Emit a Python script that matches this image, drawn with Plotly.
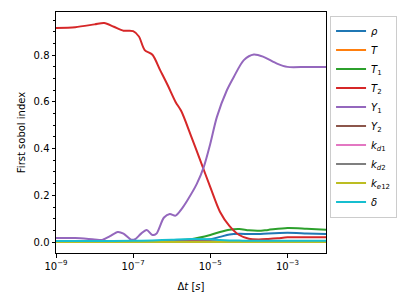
import plotly.graph_objects as go

# log10(dt) grids and values
x_T2 = [-9, -8.5, -8, -7.75, -7.5, -7.25, -7, -6.85, -6.7, -6.5, -6.3, -6.1, -5.9, -5.75, -5.5, -5.25, -5, -4.75, -4.5, -4.25, -4, -3.75, -3.5, -3.25, -3, -2.5, -2]
T2 = [0.917, 0.920, 0.932, 0.938, 0.922, 0.905, 0.903, 0.88, 0.822, 0.802, 0.736, 0.67, 0.60, 0.56, 0.455, 0.345, 0.235, 0.13, 0.068, 0.03, 0.014, 0.011, 0.013, 0.016, 0.02, 0.02, 0.02]

x_Y1 = [-9, -8.5, -8.0, -7.8, -7.6, -7.4, -7.25, -7.05, -6.95, -6.8, -6.65, -6.5, -6.4, -6.2, -6.05, -5.9, -5.75, -5.6, -5.35, -5.17, -5.0, -4.83, -4.57, -4.39, -4.13, -3.87, -3.62, -3.27, -3.0, -2.5, -2]
Y1 = [0.017, 0.017, 0.011, 0.009, 0.025, 0.043, 0.036, 0.01, 0.012, 0.035, 0.052, 0.03, 0.035, 0.105, 0.12, 0.113, 0.14, 0.177, 0.249, 0.321, 0.421, 0.535, 0.65, 0.707, 0.779, 0.803, 0.793, 0.764, 0.75, 0.75, 0.75]

x_common = [-9, -8, -7, -6.5, -6, -5.5, -5, -4.75, -4.5, -4.25, -4, -3.75, -3.5, -3, -2.5, -2]
rho = [0.003, 0.003, 0.003, 0.004, 0.005, 0.006, 0.012, 0.022, 0.032, 0.035, 0.034, 0.034, 0.037, 0.04, 0.037, 0.034]
T = [0.0] * 16
T1 = [0.002, 0.002, 0.003, 0.004, 0.007, 0.012, 0.03, 0.043, 0.053, 0.056, 0.05, 0.048, 0.052, 0.06, 0.057, 0.053]
Y2 = [0.001, 0.001, 0.001, 0.002, 0.004, 0.006, 0.004, 0.002, 0.001, 0.001, 0.001, 0.001, 0.001, 0.001, 0.001, 0.001]
kd1 = [0.001] * 16
kd2 = [0.001] * 16
ke12 = [0.0] * 16
delta = [0.004, 0.004, 0.005, 0.007, 0.01, 0.013, 0.012, 0.009, 0.007, 0.006, 0.005, 0.005, 0.005, 0.005, 0.005, 0.005]

names = ["<i>ρ</i>", "<i>T</i>", "<i>T</i><sub>1</sub>", "<i>T</i><sub>2</sub>", "<i>Y</i><sub>1</sub>",
         "<i>Y</i><sub>2</sub>", "<i>k</i><sub><i>d</i>1</sub>", "<i>k</i><sub><i>d</i>2</sub>",
         "<i>k</i><sub><i>e</i>12</sub>", "<i>δ</i>"]
colors = ["#1f77b4", "#ff7f0e", "#2ca02c", "#d62728", "#9467bd",
          "#8c564b", "#e377c2", "#7f7f7f", "#bcbd22", "#17becf"]
series = [(x_common, rho), (x_common, T), (x_common, T1), (x_T2, T2), (x_Y1, Y1),
          (x_common, Y2), (x_common, kd1), (x_common, kd2), (x_common, ke12), (x_common, delta)]

fig = go.Figure()
for (xs, ys), n, c in zip(series, names, colors):
    fig.add_trace(go.Scatter(x=[10 ** v for v in xs], y=ys, mode="lines", name=n,
                             line=dict(color=c, width=2, shape="spline", smoothing=0.8)))

font = dict(family="DejaVu Sans", size=10, color="black")
fig.update_layout(
    width=407, height=305, margin=dict(l=56, r=81, t=12, b=52, autoexpand=False),
    paper_bgcolor="white", plot_bgcolor="white", font=font,
    legend=dict(x=1.015, y=0.985, xanchor="left", yanchor="top",
                bordercolor="#cccccc", borderwidth=1, bgcolor="white",
                font=dict(family="DejaVu Sans", size=10), tracegroupgap=0),
)
fig.update_xaxes(type="log", range=[-9, -2], showline=True, mirror=True, linecolor="black",
                 linewidth=1, ticks="outside", ticklen=3.5, tickcolor="black", showgrid=False,
                 zeroline=False,
                 tickvals=[1e-9, 1e-7, 1e-5, 1e-3],
                 ticktext=["10<sup>−9</sup>", "10<sup>−7</sup>", "10<sup>−5</sup>", "10<sup>−3</sup>"],
                 title=dict(text="Δ<i>t</i> [<i>s</i>]", standoff=12, font=font))
fig.update_yaxes(range=[-0.047, 0.985], showline=True, mirror=True, linecolor="black",
                 linewidth=1, ticks="outside", ticklen=3.5, tickcolor="black", showgrid=False,
                 zeroline=False, tickvals=[0, 0.2, 0.4, 0.6, 0.8],
                 ticktext=["0.0", "0.2", "0.4", "0.6", "0.8"],
                 minor=dict(dtick=0.05, ticks="outside", ticklen=2, tickcolor="black", showgrid=False),
                 title=dict(text="First sobol index", standoff=6, font=font))
fig.write_html("out.html", config={"displayModeBar": False},
               post_script="document.body.style.margin='0';")
